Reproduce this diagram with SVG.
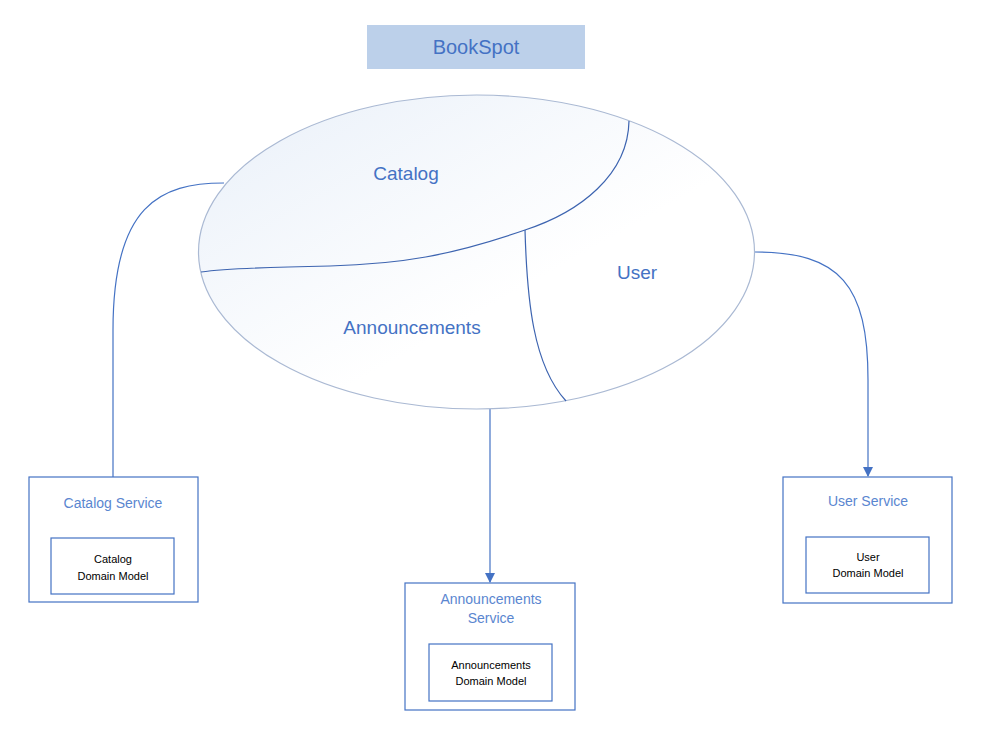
<svg xmlns="http://www.w3.org/2000/svg" width="991" height="736" viewBox="0 0 991 736">
<style>
  .lbl{font-family:"Liberation Sans",Arial,sans-serif;fill:#4472c4;text-anchor:middle}
  .big{font-size:19px}
  .svc{font-size:14px;fill:#5a86d0}
  .dm{font-family:"Liberation Sans",Arial,sans-serif;font-size:11px;fill:#000;text-anchor:middle}
  .box{fill:#fff;stroke:#4472c4;stroke-width:1.2}
  .conn{fill:none;stroke:#4472c4;stroke-width:1.2}
  .div{fill:none;stroke:#3d64b0;stroke-width:1.2}
</style>
<defs>
  <linearGradient id="g" x1="0" y1="0" x2="1" y2="1">
    <stop offset="0" stop-color="#e9f0f9"/>
    <stop offset="0.6" stop-color="#ffffff"/>
  </linearGradient>
  <marker id="arr" markerWidth="10" markerHeight="10" refX="9" refY="5" orient="auto" markerUnits="userSpaceOnUse">
    <path d="M0,0 L10,5 L0,10 z" fill="#4472c4"/>
  </marker>
</defs>
<rect width="991" height="736" fill="#fff"/>

<g id="title">
  <rect x="367" y="25" width="218" height="44" fill="#bcd0ea"/>
  <text class="lbl" x="476" y="54" style="font-size:20px">BookSpot</text>
</g>

<g id="connectors">
  <path class="conn" d="M224,183 C160,183 113,205 113,330 L113,477"/>
  <path class="conn" d="M490,409 L490,582" marker-end="url(#arr)"/>
  <path class="conn" d="M755,252 C840,252 868,285 868,380 L868,476" marker-end="url(#arr)"/>
</g>

<g id="bookspot-domain">
  <ellipse cx="476.5" cy="252" rx="278" ry="157" fill="url(#g)" stroke="#aab9d3" stroke-width="1.2"/>
  <path class="div" d="M629,121 C628,175 580,212 525,230 C450,256 400,264 330,266 C270,267 230,268 201,272"/>
  <path class="div" d="M525,230 C527,300 533,365 566,401"/>
  <text class="lbl big" x="406" y="180">Catalog</text>
  <text class="lbl big" x="637" y="279">User</text>
  <text class="lbl big" x="412" y="334">Announcements</text>
</g>

<g id="catalog-service">
  <rect class="box" x="29" y="477" width="169" height="125"/>
  <text class="lbl svc" x="113" y="508">Catalog Service</text>
  <rect class="box" x="51" y="538" width="123" height="56"/>
  <text class="dm" x="113" y="563">Catalog</text>
  <text class="dm" x="113" y="580">Domain Model</text>
</g>

<g id="announcements-service">
  <rect class="box" x="405" y="583" width="170" height="127"/>
  <text class="lbl svc" x="491" y="604">Announcements</text>
  <text class="lbl svc" x="491" y="623">Service</text>
  <rect class="box" x="429" y="644" width="123" height="57"/>
  <text class="dm" x="491" y="669">Announcements</text>
  <text class="dm" x="491" y="685">Domain Model</text>
</g>

<g id="user-service">
  <rect class="box" x="783" y="477" width="169" height="126"/>
  <text class="lbl svc" x="868" y="506">User Service</text>
  <rect class="box" x="806" y="537" width="123" height="56"/>
  <text class="dm" x="868" y="561">User</text>
  <text class="dm" x="868" y="577">Domain Model</text>
</g>
</svg>
